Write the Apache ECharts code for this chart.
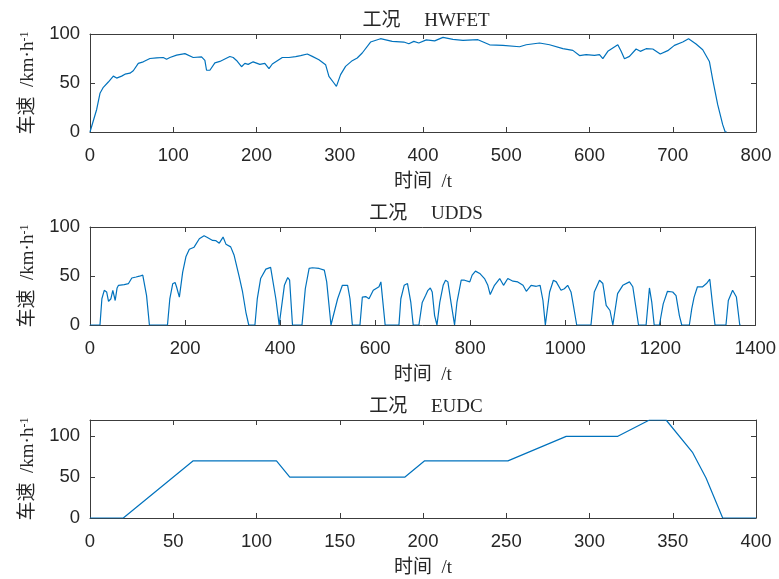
<!DOCTYPE html>
<html>
<head>
<meta charset="utf-8">
<title>工况</title>
<script src="https://cdn.jsdelivr.net/npm/echarts@6/dist/echarts.min.js"></script>
<style>
html, body { margin: 0; padding: 0; background: #fff; }
#main { width: 779px; height: 579px; }
</style>
</head>
<body>
<div id="main"></div>
<script>
// HWFET 工况 (t / 车速)
var hwfetTime = [0, 2, 8, 12, 16, 22, 28, 32, 38, 42, 48, 52, 58, 64, 72, 80, 88, 92, 96, 104,
	114, 124, 134, 138, 140, 144, 150, 156, 168, 172, 176, 182, 186, 190, 196, 204, 210, 215, 219, 231,
	239, 247, 253, 261, 267, 275, 283, 287, 293, 296, 301, 307, 315, 321, 327, 337, 349, 363, 377, 383,
	389, 395, 404, 414, 424, 436, 448, 466, 480, 496, 516, 524, 540, 552, 568, 580, 588, 596, 606, 612,
	616, 622, 634, 638, 642, 648, 656, 661, 668, 676, 685, 694, 702, 712, 719, 728, 736, 744, 748, 754,
	760, 763, 765];
var hwfetSpeed = [0, 0, 23, 39.5, 45.6, 51, 57, 55, 57, 59, 60, 62.5, 70, 71.6, 75, 75.7, 76, 74.3, 76, 78.4,
	80, 76, 76.7, 73, 63, 63, 70.6, 72, 77, 76, 73, 66.6, 70, 69, 71.6, 69, 70, 64.6, 69.4, 76,
	76, 77, 78, 79.6, 77.2, 73.8, 68.7, 56.8, 50, 46.6, 58.5, 67, 72.8, 75.5, 80.6, 91.8, 95.2, 92.5, 91.8, 90,
	92.5, 90.8, 94, 93, 96.6, 94.5, 93.5, 94.2, 89, 88.4, 87, 89, 90.8, 89, 85, 83.3, 78, 79, 78.2, 79,
	74.8, 82.3, 89, 82.3, 74.8, 77.2, 84.7, 82.3, 85, 84.7, 79.6, 83, 88.4, 91.8, 95.2, 89.8, 84, 72, 53.4, 27.9,
	7.5, 0, 0];

// UDDS 工况
var uddsTime = [0, 21, 25, 30, 35, 39, 44, 48, 53, 57, 60, 72, 81, 88, 97, 104, 111, 114, 119, 125,
	163, 168, 174, 179, 182, 188, 195, 202, 209, 219, 230, 240, 247, 258, 265, 272, 280, 286, 296, 303,
	314, 321, 328, 334, 347, 352, 359, 370, 380, 384, 391, 398, 402, 409, 416, 420, 426, 446, 453, 461,
	468, 482, 493, 498, 507, 510, 521, 531, 542, 547, 552, 568, 573, 580, 587, 596, 608, 612, 621, 650,
	654, 661, 668, 675, 680, 692, 699, 706, 711, 716, 720, 725, 730, 736, 743, 748, 753, 760, 767, 772,
	781, 788, 799, 804, 811, 820, 830, 837, 842, 851, 862, 870, 879, 890, 900, 911, 918, 928, 939, 947,
	953, 958, 967, 975, 981, 991, 998, 1005, 1012, 1017, 1024, 1054, 1061, 1072, 1079, 1086, 1094, 1100, 1103, 1110,
	1121, 1135, 1142, 1149, 1154, 1170, 1177, 1182, 1187, 1198, 1206, 1215, 1226, 1233, 1240, 1245, 1261, 1266, 1271, 1278,
	1289, 1297, 1304, 1310, 1315, 1338, 1343, 1352, 1360, 1367, 1369];
var uddsSpeed = [0, 0, 26.8, 35.4, 33.7, 24, 26.8, 35.4, 25, 37.8, 40.5, 41.2, 42.3, 48, 49, 49.8, 50.9, 51.5, 30, 0,
	0, 27, 42, 43.3, 39, 28.5, 54, 70, 77.3, 79.4, 88, 91, 89.3, 86.3, 86, 83.5, 89.7, 82.5, 79.7, 71.5,
	49, 33.7, 13, 0, 0, 27, 47.4, 57, 58.8, 57.7, 26.8, 0, 0, 40.5, 48.5, 45.7, 0, 0, 37, 57.7,
	58.4, 57.7, 56, 44, 0, 0, 26.8, 40.5, 40.5, 26.8, 0, 0, 28.5, 29, 26.8, 35.4, 39, 44, 0, 0,
	26.8, 40.5, 42.3, 23, 0, 0, 23, 30, 35.4, 37.8, 33.7, 9.6, 0, 23.4, 40.5, 45.7, 44, 21.6, 0, 23,
	45.7, 45.7, 44, 50.9, 55, 52.6, 47.4, 40.5, 31, 40.5, 47.4, 40.5, 47.4, 44.7, 44, 40.5, 34.4, 40.5, 39.5, 40.5,
	25, 0, 33.7, 45.7, 44, 35.4, 37, 40.5, 33.7, 20, 0, 0, 33.7, 45.7, 42.3, 20, 14.8, 0, 0, 32,
	40.5, 44, 39, 16.5, 0, 0, 37.8, 23, 0, 0, 21.6, 34.4, 33.7, 30, 9.6, 0, 0, 16.5, 28.5, 39,
	39, 42.3, 46.7, 20, 0, 0, 25, 35.4, 28.5, 0, 0];

// EUDC 工况
var eudcTime = [0, 20, 62, 112, 120, 189, 201, 251, 286, 317, 336, 346, 362, 370, 380, 400];
var eudcSpeed = [0, 0, 70, 70, 50, 50, 70, 70, 100, 100, 120, 120, 80, 49, 0, 0];

var titles = ['工况　 HWFET', '工况　 UDDS', '工况　 EUDC'];
var xMax = [800, 1400, 400];
var xStep = [100, 200, 50];
var yMax = [100, 100, 120];

function pairs(ts, vs) {
	var out = [];
	for (var i = 0; i < ts.length; i++) {
		out.push([ts[i], vs[i]]);
	}
	return out;
}

var seriesData = [pairs(hwfetTime, hwfetSpeed), pairs(uddsTime, uddsSpeed), pairs(eudcTime, eudcSpeed)];

var axisColor = '#3c3c3c';
var textColor = '#262626';
var serifFont = '"Liberation Serif", "Noto Sans CJK SC", serif';
var tickFont = '"Liberation Sans", Arial, sans-serif';
var gridTops = [34, 227, 420];

function plainNum(v) {
	return String(v);
}

var grids = [], xAxes = [], yAxes = [], titleList = [], series = [];

for (var i = 0; i < 3; i++) {
	grids.push({ left : 90, top : gridTops[i], width : 666, height : 98 });
	titleList.push({
		text : titles[i],
		left : 421,
		textAlign : 'center',
		top : gridTops[i] - 27,
		textStyle : { fontFamily : serifFont, fontSize : 19, fontWeight : 'normal', color : textColor }
	});
}
// bottom + left axes (with labels)
for (var i = 0; i < 3; i++) {
	xAxes.push({
		type : 'value', gridIndex : i, min : 0, max : xMax[i], interval : xStep[i],
		name : '时间  /t', nameLocation : 'middle', nameGap : 41,
		nameTextStyle : { fontFamily : serifFont, fontSize : 19, color : textColor },
		axisLine : { show : true, onZero : false, lineStyle : { color : axisColor, width : 1 } },
		axisTick : { inside : true, length : 5, lineStyle : { color : axisColor } },
		axisLabel : { fontFamily : tickFont, fontSize : 18.5, color : textColor, margin : 14, formatter : plainNum },
		splitLine : { show : false }
	});
	yAxes.push({
		type : 'value', gridIndex : i, min : 0, max : yMax[i], interval : 50,
		name : '{a|车速  /km·h}{s|-1}', nameLocation : 'middle', nameGap : 52, nameRotate : 90,
		nameTextStyle : {
			rich : {
				a : { fontFamily : serifFont, fontSize : 19, color : textColor },
				s : { fontFamily : serifFont, fontSize : 12, color : textColor, verticalAlign : 'top' }
			}
		},
		axisLine : { show : true, onZero : false, lineStyle : { color : axisColor, width : 1 } },
		axisTick : { inside : true, length : 5, lineStyle : { color : axisColor } },
		axisLabel : { fontFamily : tickFont, fontSize : 18.5, color : textColor, margin : 10, formatter : plainNum },
		splitLine : { show : false }
	});
}
// top + right axes (box)
for (var i = 0; i < 3; i++) {
	xAxes.push({
		type : 'value', gridIndex : i, position : 'top', min : 0, max : xMax[i], interval : xStep[i],
		axisLine : { show : true, onZero : false, lineStyle : { color : axisColor, width : 1 } },
		axisTick : { inside : true, length : 5, lineStyle : { color : axisColor } },
		axisLabel : { show : false },
		splitLine : { show : false }
	});
	yAxes.push({
		type : 'value', gridIndex : i, position : 'right', min : 0, max : yMax[i], interval : 50,
		axisLine : { show : true, onZero : false, lineStyle : { color : axisColor, width : 1 } },
		axisTick : { inside : true, length : 5, lineStyle : { color : axisColor } },
		axisLabel : { show : false },
		splitLine : { show : false }
	});
}
for (var i = 0; i < 3; i++) {
	series.push({
		type : 'line',
		xAxisIndex : i,
		yAxisIndex : i,
		data : seriesData[i],
		showSymbol : false,
		animation : false,
		lineStyle : { color : '#0072BD', width : 1.2 }
	});
}

var option = {
	backgroundColor : '#fff',
	animation : false,
	title : titleList,
	grid : grids,
	xAxis : xAxes,
	yAxis : yAxes,
	series : series
};

var myChart = echarts.init(document.getElementById('main'));
myChart.setOption(option, true);
</script>
</body>
</html>
